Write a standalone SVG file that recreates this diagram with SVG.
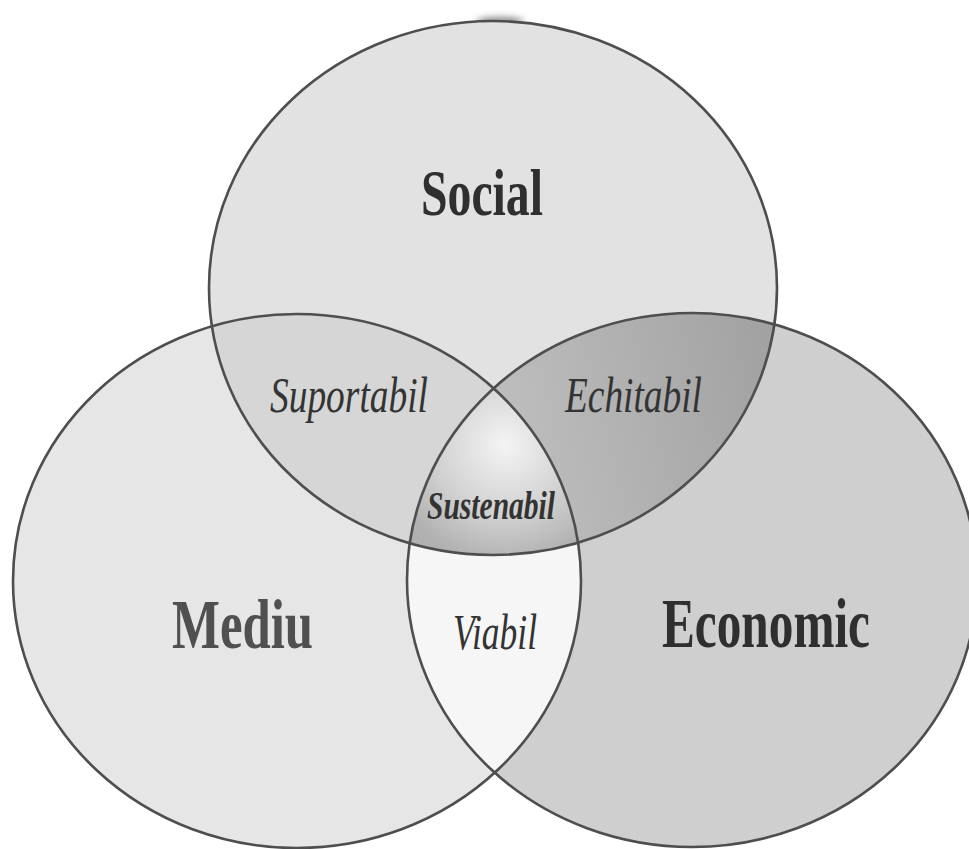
<svg xmlns="http://www.w3.org/2000/svg" width="969" height="849" viewBox="0 0 969 849">
  <style>
    .ring { fill: none; stroke: #4e4e4e; stroke-width: 2.6; }
    .main { font-family: "Liberation Serif", "Times New Roman", serif; font-weight: bold; fill: #2f2f2f; }
    .light { fill: #505050; }
    .sub { font-family: "Liberation Serif", "Times New Roman", serif; font-style: italic; fill: #333333; }
  </style>
  <defs>
    <clipPath id="clipSocial"><ellipse cx="493" cy="288" rx="284" ry="267"/></clipPath>
    <clipPath id="clipMediu"><ellipse cx="297" cy="581" rx="284" ry="267"/></clipPath>
    <radialGradient id="gCenter" gradientUnits="userSpaceOnUse" cx="505" cy="445" r="120">
      <stop offset="0" stop-color="#f4f4f4"/>
      <stop offset="0.6" stop-color="#d0d0d0"/>
      <stop offset="1" stop-color="#b0b0b0"/>
    </radialGradient>
    <linearGradient id="gEchi" gradientUnits="userSpaceOnUse" x1="520" y1="420" x2="770" y2="360">
      <stop offset="0" stop-color="#bcbcbc"/>
      <stop offset="1" stop-color="#a2a2a2"/>
    </linearGradient>
    <filter id="blur" x="-50%" y="-200%" width="200%" height="500%"><feGaussianBlur stdDeviation="3"/></filter>
  </defs>

  <rect x="0" y="0" width="969" height="849" fill="#ffffff"/>
  <ellipse cx="500" cy="21" rx="24" ry="4" fill="#8a8a8a" filter="url(#blur)"/>

  <g id="social">
    <ellipse cx="493" cy="288" rx="284" ry="267" fill="#e2e2e2"/>
  </g>
  <g id="mediu">
    <ellipse cx="297" cy="581" rx="284" ry="267" fill="#e6e6e6"/>
  </g>
  <g id="economic">
    <ellipse cx="692" cy="580" rx="285" ry="267" fill="#cfcfcf"/>
  </g>

  <g id="suportabil">
    <ellipse cx="297" cy="581" rx="284" ry="267" fill="#d6d6d6" clip-path="url(#clipSocial)"/>
  </g>
  <g id="echitabil">
    <ellipse cx="692" cy="580" rx="285" ry="267" fill="url(#gEchi)" clip-path="url(#clipSocial)"/>
  </g>
  <g id="viabil">
    <ellipse cx="692" cy="580" rx="285" ry="267" fill="#f6f6f6" clip-path="url(#clipMediu)"/>
  </g>
  <g id="sustenabil">
    <g clip-path="url(#clipSocial)">
      <ellipse cx="692" cy="580" rx="285" ry="267" fill="url(#gCenter)" clip-path="url(#clipMediu)"/>
    </g>
  </g>

  <g id="outlines">
    <ellipse class="ring" cx="297" cy="581" rx="284" ry="267"/>
    <ellipse class="ring" cx="692" cy="580" rx="285" ry="267"/>
    <ellipse class="ring" cx="493" cy="288" rx="284" ry="267"/>
  </g>

  <g id="labels">
    <text class="main" x="421" y="215" font-size="66" textLength="122" lengthAdjust="spacingAndGlyphs">Social</text>
    <text class="main light" x="172" y="648" font-size="70" textLength="141" lengthAdjust="spacingAndGlyphs">Mediu</text>
    <text class="main" x="662" y="647" font-size="70" textLength="208" lengthAdjust="spacingAndGlyphs">Economic</text>
    <text class="sub" x="270" y="412" font-size="50" textLength="158" lengthAdjust="spacingAndGlyphs">Suportabil</text>
    <text class="sub" x="565" y="412" font-size="50" textLength="137" lengthAdjust="spacingAndGlyphs">Echitabil</text>
    <text class="sub" x="453" y="649" font-size="50" textLength="84" lengthAdjust="spacingAndGlyphs">Viabil</text>
    <text class="sub" x="427" y="519" font-size="40" font-weight="bold" textLength="128" lengthAdjust="spacingAndGlyphs">Sustenabil</text>
  </g>
</svg>
